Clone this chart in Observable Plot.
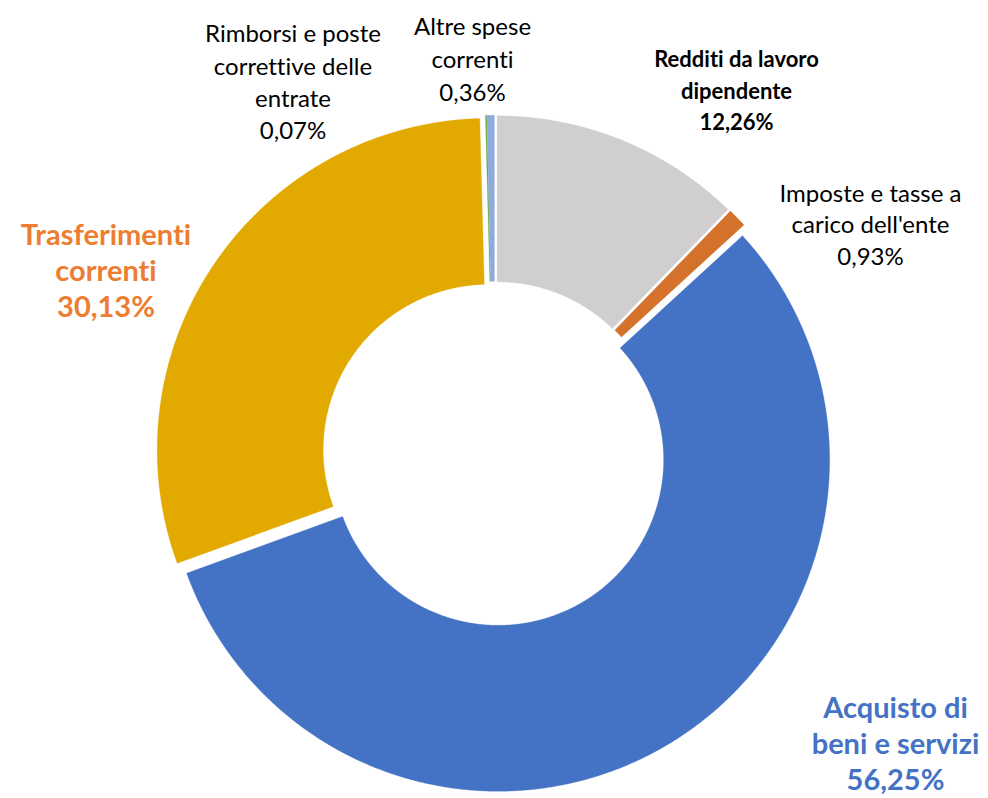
<!DOCTYPE html>
<html><head><meta charset="utf-8">
<script src="https://cdn.jsdelivr.net/npm/d3@7"></script>
<script src="https://cdn.jsdelivr.net/npm/@observablehq/plot@0.6"></script>
<style>html,body{margin:0;padding:0;background:#fff;}
svg text{font-variant-ligatures:none;font-feature-settings:"liga" 0,"clig" 0;}</style>
</head><body><div id="chart"></div>
<script>
// ---- data ----
const categories = [
  "Redditi da lavoro dipendente",
  "Imposte e tasse a carico dell'ente",
  "Acquisto di beni e servizi",
  "Trasferimenti correnti",
  "Rimborsi e poste correttive delle entrate",
  "Altre spese correnti"
];
const values = [12.26, 0.93, 56.25, 30.13, 0.07, 0.36];
const labelLines = [
  ["Redditi da lavoro", "dipendente"],
  ["Imposte e tasse a", "carico dell'ente"],
  ["Acquisto di", "beni e servizi"],
  ["Trasferimenti", "correnti"],
  ["Rimborsi e poste", "correttive delle", "entrate"],
  ["Altre spese", "correnti"]
];

// ---- style / layout ----
const sliceColors = ["#D0CECE", "#D4712A", "#4472C4", "#E2AA00", "#70AD47", "#8FAADC"];
const W = 988, H = 798;
const cx = 494, cy = 453.3, R = 331.5, r = 165.5, explode = 7;
const labelLayout = [
  {x: 736, y: 60,    size: 22, weight: "bold",   color: "#000000", lh: 31.5},
  {x: 870, y: 196,   size: 24, weight: "normal", color: "#000000", lh: 31.5},
  {x: 895, y: 713,   size: 29, weight: "bold",   color: "#4472C4", lh: 36},
  {x: 105.5, y: 240, size: 29, weight: "bold",   color: "#ED7D31", lh: 36},
  {x: 292.5, y: 35.7, size: 24, weight: "normal", color: "#000000", lh: 32.4},
  {x: 472, y: 28.3,  size: 24, weight: "normal", color: "#000000", lh: 32.8}
];

const fmt = v => v.toFixed(2).replace(".", ",") + "%";

const arcs = d3.pie().sort(null).value(d => d)(values);
const pts = [];
arcs.forEach((p, i) => {
  const mid = (p.startAngle + p.endAngle) / 2;
  const ox = explode * Math.sin(mid), oy = -explode * Math.cos(mid);
  const span = p.endAngle - p.startAngle;
  const n = Math.max(2, Math.ceil(span / 0.004));
  const ring = [];
  for (let k = 0; k <= n; k++) ring.push([R, p.startAngle + span * k / n]);
  for (let k = n; k >= 0; k--) ring.push([r, p.startAngle + span * k / n]);
  ring.push(ring[0]);
  ring.forEach(([rad, a]) => pts.push({
    cat: categories[i], color: sliceColors[i],
    x: cx + ox + rad * Math.sin(a), y: cy + oy - rad * Math.cos(a)
  }));
});

const textMarks = labelLayout.map((L, i) => Plot.text([{
    x: L.x, y: L.y - 0.71 * L.size,
    t: [...labelLines[i], fmt(values[i])].join("\n")
  }], {
    x: "x", y: "y", text: "t", lineAnchor: "top", textAnchor: "middle",
    fontSize: L.size, fontWeight: L.weight, fill: L.color, lineHeight: L.lh / L.size
  }));

const chart = Plot.plot({
  width: W, height: H,
  margin: 0,
  x: {domain: [0, W], range: [0, W], axis: null},
  y: {domain: [0, H], range: [0, H], axis: null},
  color: {type: "identity"},
  style: {fontFamily: "Lato, 'Open Sans', sans-serif", background: "#fff"},
  marks: [
    Plot.line(pts, {x: "x", y: "y", z: "cat", fill: "color", stroke: "color", strokeWidth: 0.3, curve: "linear"}),
    ...textMarks
  ]
});
document.getElementById("chart").appendChild(chart);
</script>
</body></html>
